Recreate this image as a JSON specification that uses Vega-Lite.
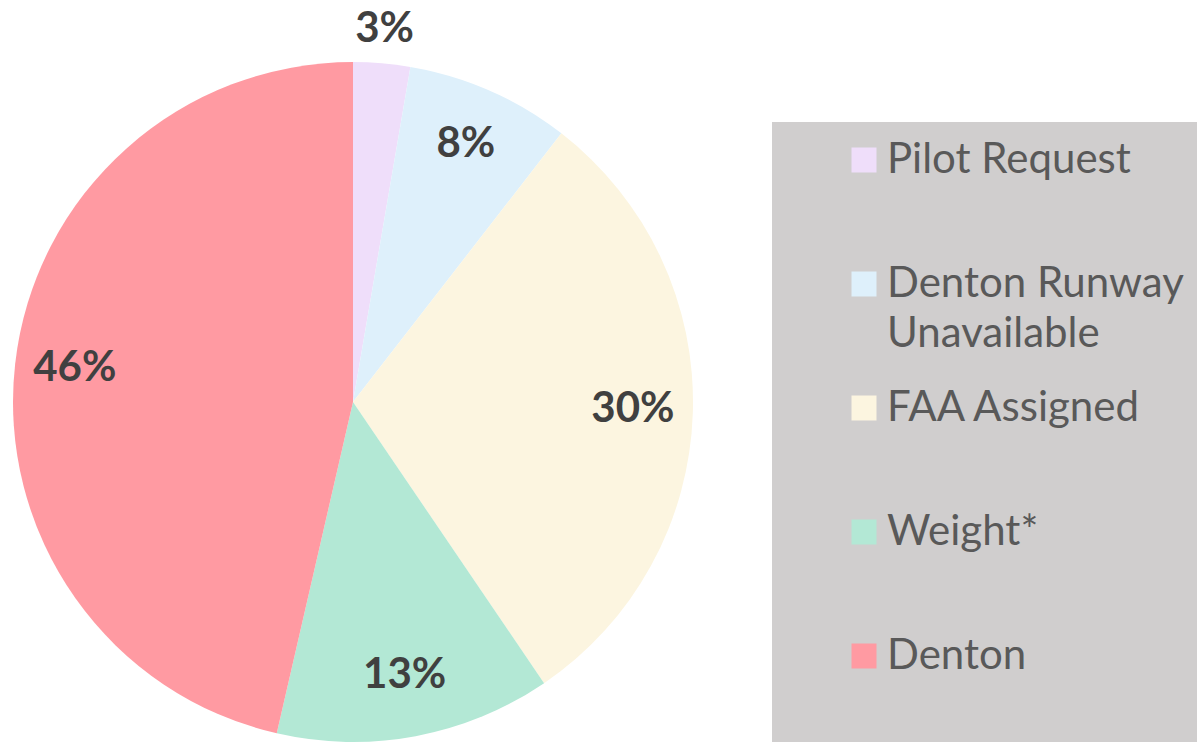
{
  "$schema": "https://vega.github.io/schema/vega-lite/v6.json",
  "width": 706,
  "height": 680,
  "autosize": {"type": "none"},
  "padding": {"left": 0, "top": 62, "right": 491, "bottom": 0},
  "background": "white",
  "config": {"view": {"stroke": null}},
  "data": {
    "values": [
      {"cause": "Pilot Request", "share": 0.027, "slice": 1},
      {"cause": "Denton Runway Unavailable", "share": 0.078, "slice": 2},
      {"cause": "FAA Assigned", "share": 0.300, "slice": 3},
      {"cause": "Weight*", "share": 0.131, "slice": 4},
      {"cause": "Denton", "share": 0.464, "slice": 5}
    ]
  },
  "encoding": {
    "theta": {"field": "share", "type": "quantitative", "stack": true},
    "order": {"field": "slice", "type": "quantitative"},
    "color": {
      "field": "cause",
      "type": "nominal",
      "sort": ["Pilot Request", "Denton Runway Unavailable", "FAA Assigned", "Weight*", "Denton"],
      "scale": {
        "domain": ["Pilot Request", "Denton Runway Unavailable", "FAA Assigned", "Weight*", "Denton"],
        "range": ["#EFDEFA", "#DEF0FB", "#FCF5E0", "#B3E8D5", "#FF9AA2"]
      },
      "legend": {
        "title": " ",
        "titleOrient": "bottom",
        "titleFontSize": 30,
        "titlePadding": 20,
        "orient": "none",
        "legendX": 772,
        "legendY": 60,
        "fillColor": "#D0CECE",
        "padding": 17,
        "symbolOffset": 54,
        "symbolType": "square",
        "symbolSize": 625,
        "symbolStrokeWidth": 0,
        "labelFont": "Lato",
        "labelFontSize": 42,
        "labelColor": "#595959",
        "labelOffset": 2,
        "labelLimit": 500,
        "labelExpr": "datum.label == 'Denton Runway Unavailable' ? ['Denton Runway', 'Unavailable'] : datum.label",
        "rowPadding": 32,
        "gridAlign": "all",
        "encode": {
          "labels": {
            "update": {
              "lineHeight": {"value": 50}
            }
          }
        }
      }
    }
  },
  "layer": [
    {"mark": {"type": "arc", "outerRadius": 340}},
    {
      "mark": {"type": "text", "radius": 280, "dy": -2, "font": "Lato", "fontWeight": "bold", "fontSize": 42},
      "encoding": {
        "text": {"condition": {"test": "datum.share < 0.05", "value": ""}, "field": "share", "type": "quantitative", "format": ".0%"},
        "color": {"value": "#404040"}
      }
    },
    {
      "mark": {"type": "text", "radius": 372, "dy": -2, "font": "Lato", "fontWeight": "bold", "fontSize": 42},
      "encoding": {
        "text": {"condition": {"test": "datum.share >= 0.05", "value": ""}, "field": "share", "type": "quantitative", "format": ".0%"},
        "color": {"value": "#404040"}
      }
    }
  ]
}
